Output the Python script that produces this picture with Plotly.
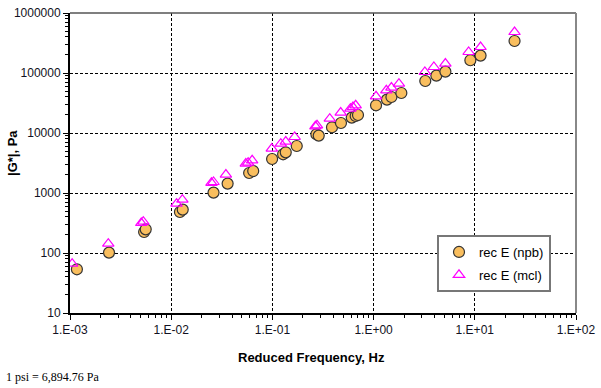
import plotly.graph_objects as go

# rec E (npb) - circles
npb_freq = [0.00117, 0.00243, 0.0054, 0.0056, 0.0122, 0.0130, 0.0262, 0.0361, 0.0589, 0.0646,
            0.0993, 0.1276, 0.1355, 0.174, 0.272, 0.287, 0.388, 0.476, 0.608, 0.665, 0.701,
            1.057, 1.355, 1.50, 1.88, 3.24, 4.17, 5.12, 9.04, 11.4, 24.7]
npb_g = [53.5, 101.6, 224, 248, 482, 529, 1016, 1435, 2154, 2327,
         3688, 4415, 4765, 6070, 9510, 9050, 12450, 14680, 18060, 19200, 19950,
         28960, 36040, 39800, 46400, 73500, 90500, 105500, 163000, 195000, 341500]

# rec E (mcl) - open triangles
mcl_freq = [0.00105, 0.00239, 0.00506, 0.0053, 0.0113, 0.0129, 0.0250, 0.0262, 0.0347, 0.0546,
            0.0576, 0.0631, 0.0986, 0.121, 0.1355, 0.166, 0.266, 0.276, 0.369, 0.473,
            0.590, 0.625, 0.665, 1.057, 1.336, 1.50, 1.78, 3.21, 3.94, 5.12, 8.69, 11.4, 24.7]
mcl_g = [66.5, 143, 316, 333, 665, 776, 1480, 1525, 2028, 3090,
         3210, 3510, 5500, 6650, 7190, 8580, 12930, 13430, 17370, 21880,
         25500, 27100, 28950, 40900, 51500, 57100, 66500, 104000, 126000, 143500, 224000, 271000, 482000]

x_tickvals = [0.001, 0.01, 0.1, 1, 10, 100]
x_ticktext = ["1.E-03", "1.E-02", "1.E-01", "1.E+00", "1.E+01", "1.E+02"]
y_tickvals = [10, 100, 1000, 10000, 100000, 1000000]
y_ticktext = ["10", "100", "1000", "10000", "100000", "1000000"]

W, H = 601, 388
L, R, T, B = 70, 25, 13, 75
pw, ph = W - L - R, H - T - B

fig = go.Figure()
fig.add_trace(go.Scatter(
    x=npb_freq, y=npb_g, mode="markers", name="rec E (npb)", legendgroup="a",
    marker=dict(symbol="circle", size=11, color="#F9BE5E",
                line=dict(color="#333333", width=1.2))))
fig.add_trace(go.Scatter(
    x=mcl_freq, y=mcl_g, mode="markers", name="rec E (mcl)", legendgroup="b",
    marker=dict(symbol="triangle-up-open", size=10, color="#FF00FF",
                line=dict(color="#FF00FF", width=1.2))))

axis_common = dict(
    type="log", showgrid=True, gridcolor="black", griddash="3px,2px", gridwidth=1,
    showline=True, linecolor="black", linewidth=2, ticks="outside", ticklen=5,
    tickcolor="black", tickwidth=1, zeroline=False, automargin=False,
    tickfont=dict(family="Liberation Sans, Arial", size=12, color="#111122"),
    minor=dict(ticks="outside", ticklen=3, tickcolor="black", dtick="D1", showgrid=False),
)

fig.update_xaxes(**axis_common, range=[-3, 2], tickmode="array",
                 tickvals=x_tickvals, ticktext=x_ticktext)
fig.update_yaxes(**axis_common, range=[1, 6], tickmode="array",
                 tickvals=y_tickvals, ticktext=y_ticktext)

# top and right frame
fig.add_shape(type="line", xref="paper", yref="paper", x0=0, x1=1, y0=1, y1=1,
              line=dict(color="#555555", width=1.5))
fig.add_shape(type="line", xref="paper", yref="paper", x0=1, x1=1, y0=0, y1=1,
              line=dict(color="#888888", width=2))

def px(x):
    return (x - L) / pw

def py(y):
    return (H - B - y) / ph

fig.add_annotation(text="<b>Reduced Frequency, Hz</b>", xref="paper", yref="paper",
                   x=px(311), y=py(357), xanchor="center", yanchor="middle", showarrow=False,
                   font=dict(family="Liberation Sans, Arial", size=13, color="black"))
fig.add_annotation(text="<b>|G*|, Pa</b>", xref="paper", yref="paper", textangle=-90,
                   x=px(12), y=py(153), xanchor="center", yanchor="middle", showarrow=False,
                   font=dict(family="Liberation Sans, Arial", size=13, color="black"))
fig.add_annotation(text="1 psi = 6,894.76 Pa", xref="paper", yref="paper",
                   x=px(4), y=py(377), xanchor="left", yanchor="middle", showarrow=False,
                   font=dict(family="Liberation Serif, Times New Roman", size=12, color="black"))

fig.update_layout(
    width=W, height=H,
    margin=dict(l=L, r=R, t=T, b=B),
    paper_bgcolor="white", plot_bgcolor="white",
    showlegend=True,
    legend=dict(x=px(437), y=py(235), xanchor="left", yanchor="top",
                bgcolor="white", bordercolor="#777777", borderwidth=2,
                font=dict(family="Liberation Sans, Arial", size=13, color="black"),
                itemwidth=30, traceorder="grouped", tracegroupgap=3),
)

fig.write_html("out.html", config={"displayModeBar": False},
               post_script="document.body.style.margin='0';")
